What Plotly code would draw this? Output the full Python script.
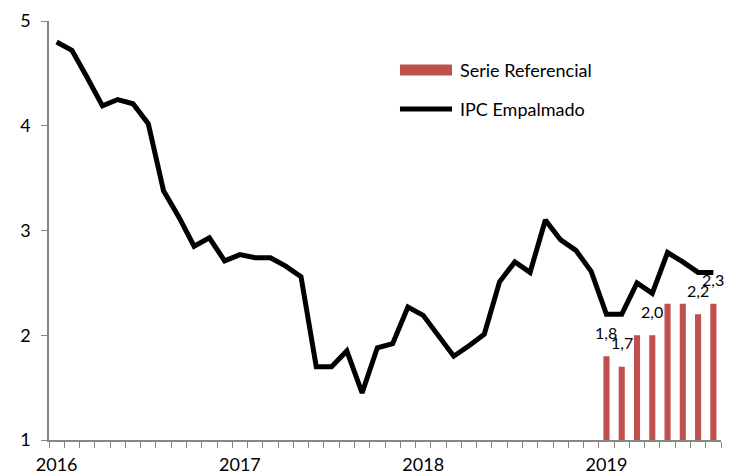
import plotly.graph_objects as go

years = [2016, 2017, 2018, 2019]
categories = [f"{y}-{m:02d}" for y in years for m in range(1, 13)][:44]
year_ticktext = [c[:4] if c.endswith("-01") else "" for c in categories]

ipc_empalmado = [4.8, 4.72, 4.46, 4.19, 4.25, 4.21, 4.02, 3.38, 3.13, 2.85,
                 2.93, 2.71, 2.77, 2.74, 2.74, 2.66, 2.56, 1.70, 1.70, 1.85,
                 1.45, 1.88, 1.92, 2.27, 2.19, 2.0, 1.80, 1.90, 2.01, 2.51,
                 2.70, 2.60, 3.10, 2.91, 2.81, 2.61, 2.20, 2.20, 2.50, 2.40,
                 2.79, 2.70, 2.60, 2.60]

serie_ref_categories = categories[36:44]
serie_referencial = [1.8, 1.7, 2.0, 2.0, 2.3, 2.3, 2.2, 2.3]
serie_ref_labels = ["1,8", "1,7", "", "2,0", "", "", "2,2", "2,3"]

FONT = "Lato"
RED = "#C0504D"
AXIS = "#868686"
FS = 18

fig = go.Figure()
fig.add_trace(go.Bar(x=serie_ref_categories, y=serie_referencial, width=0.4,
                     marker=dict(color=RED, line=dict(width=0)),
                     name="Serie Referencial", showlegend=False))
fig.add_trace(go.Scatter(x=categories, y=ipc_empalmado, mode="lines",
                         line=dict(color="black", width=5),
                         name="IPC Empalmado", showlegend=False))

for c, v, t in zip(serie_ref_categories, serie_referencial, serie_ref_labels):
    if t:
        fig.add_annotation(x=c, y=v, text=t, showarrow=False, yshift=24,
                           font=dict(family=FONT, size=16, color="black"))

# custom legend
fig.add_shape(type="rect", xref="paper", yref="paper", x0=0.5223, x1=0.5997,
              y0=0.870, y1=0.896, fillcolor=RED, line=dict(width=0))
fig.add_shape(type="line", xref="paper", yref="paper", x0=0.5223, x1=0.5997,
              y0=0.790, y1=0.790, line=dict(color="black", width=5))
fig.add_annotation(xref="paper", yref="paper", x=0.6086, y=0.883, text="Serie Referencial",
                   xanchor="left", yanchor="middle", showarrow=False,
                   font=dict(family=FONT, size=FS, color="black"))
fig.add_annotation(xref="paper", yref="paper", x=0.6086, y=0.790, text="IPC Empalmado",
                   xanchor="left", yanchor="middle", showarrow=False,
                   font=dict(family=FONT, size=FS, color="black"))

fig.update_layout(
    width=731, height=468,
    margin=dict(l=41, r=18, t=13, b=36),
    plot_bgcolor="white", paper_bgcolor="white",
    font=dict(family=FONT, size=FS, color="black"),
    bargap=0.6,
    xaxis=dict(type="category", categoryorder="array", categoryarray=categories,
               tickmode="array", tickvals=categories, ticktext=year_ticktext,
               tickson="boundaries", ticks="outside", ticklen=6, tickcolor=AXIS,
               showline=True, linecolor=AXIS, linewidth=1.5, showgrid=False,
               range=[-0.5, 43.5], tickangle=0, zeroline=False, automargin=False,
               ticklabelstandoff=8),
    yaxis=dict(range=[1, 5], tickvals=[1, 2, 3, 4, 5], ticks="outside", ticklen=6,
               tickcolor=AXIS, showline=True, linecolor=AXIS, linewidth=1.5,
               showgrid=False, zeroline=False, ticklabelstandoff=7, automargin=False),
)

fig.write_html("out.html")
